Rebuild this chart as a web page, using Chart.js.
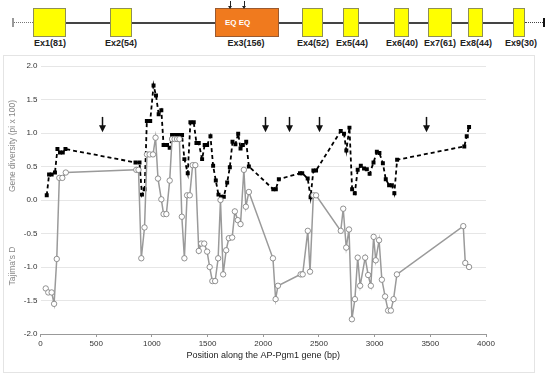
<!DOCTYPE html>
<html>
<head>
<meta charset="utf-8">
<script src="https://cdn.jsdelivr.net/npm/chart.js@4.4.1/dist/chart.umd.min.js"></script>
<style>
    body { margin: 0; background: #fff; font-family: "Liberation Sans", Arial, sans-serif; }
    #gene { position: absolute; left: 0; top: 0; width: 550px; height: 52px; }
    .ln { position: absolute; }
    .ex { position: absolute; top: 8px; height: 27px; background: #ffff00; border: 1px solid #8f8f55; }
    .lbl { position: absolute; top: 38px; width: 60px; margin-left: -30px; text-align: center; font-size: 9px; font-weight: bold; color: #222; }
    .arr { position: absolute; top: 1px; width: 1px; height: 6px; background: #222; }
    .arr:after { content: ''; position: absolute; left: -2px; top: 5px; border-left: 2.5px solid transparent; border-right: 2.5px solid transparent; border-top: 3px solid #222; }
    #frame { position: absolute; left: 3px; top: 55px; width: 530px; height: 316px; border: 1px solid #e4e4e4; }
</style>
</head>
<body>
<div id="gene">
    <div class="ln" style="left:12px;top:18px;width:2px;height:9px;background:#999"></div>
    <div class="ln" style="left:14px;top:22px;width:19px;border-top:1.5px dotted #777"></div>
    <div class="ln" style="left:33px;top:22px;width:480px;height:1.5px;background:#444"></div>
    <div class="ln" style="left:525px;top:22px;width:18px;border-top:1.5px dotted #444"></div>
    <div class="ln" style="left:543px;top:18px;width:2px;height:9px;background:#111"></div>

    <div class="ex" style="left:33px;width:31px"></div>
    <div class="ex" style="left:110px;width:20px"></div>
    <div class="ex" style="left:215px;width:62px;background:#f07a1e;border-color:#9a5a30"></div>
    <div class="ex" style="left:302px;width:19px"></div>
    <div class="ex" style="left:343px;width:14px"></div>
    <div class="ex" style="left:394px;width:13px"></div>
    <div class="ex" style="left:428px;width:22px"></div>
    <div class="ex" style="left:468px;width:13px"></div>
    <div class="ex" style="left:513px;width:10px"></div>

    <div class="arr" style="left:230px"></div>
    <div class="arr" style="left:244px"></div>
    <div class="ln" style="left:225px;top:18px;font-size:8px;font-weight:bold;color:#fff">EQ EQ</div>

    <div class="lbl" style="left:50px">Ex1(81)</div>
    <div class="lbl" style="left:121px">Ex2(54)</div>
    <div class="lbl" style="left:246px">Ex3(156)</div>
    <div class="lbl" style="left:313px">Ex4(52)</div>
    <div class="lbl" style="left:352px">Ex5(44)</div>
    <div class="lbl" style="left:402px">Ex6(40)</div>
    <div class="lbl" style="left:440px">Ex7(61)</div>
    <div class="lbl" style="left:476px">Ex8(44)</div>
    <div class="lbl" style="left:521px">Ex9(30)</div>
</div>
<div id="frame"><canvas id="grafico" width="530" height="316"></canvas></div>
<script>
// gene diversity (pi x 100)
var posDiversidade = [56, 77, 100, 130, 152, 175, 200, 224, 853, 889, 911, 935, 955, 985, 1015, 1037, 1061, 1085,
    1105, 1136, 1160, 1181, 1211, 1241, 1271, 1292, 1322, 1346, 1376, 1400, 1421, 1451, 1474, 1496, 1526, 1550,
    1574, 1598, 1622, 1646, 1676, 1700, 1724, 1750, 1775, 1796, 1817, 1847, 1871, 2090, 2113, 2140, 2330, 2350,
    2399, 2425, 2450, 2474, 2696, 2725, 2746, 2774, 2798, 2822, 2848, 2876, 2905, 2930, 2955, 2990, 3020, 3043,
    3074, 3100, 3130, 3155, 3177, 3202, 3805, 3827, 3848];
var diversidade = [0.07, 0.38, 0.38, 0.41, 0.76, 0.71, 0.71, 0.76, 0.56, 0.56, 0.08, 0.16, 1.18, 1.18, 1.71, 1.56, 1.28, 1.34,
    0.82, 0.82, 0.78, 0.97, 0.97, 0.97, 0.97, 0.61, 0.40, 1.16, 1.16, 0.85, 0.85, 0.61, 0.82, 0.82, 0.95, 0.51,
    0.29, 0.08, 0.05, 0.05, 0.26, 0.49, 0.87, 0.83, 0.99, 0.77, 0.82, 0.87, 0.50, 0.16, 0.16, 0.31, 0.40, 0.40,
    0.32, 0.04, 0.44, 0.44, 1.03, 0.99, 0.74, 1.08, 0.16, 0.10, 0.45, 0.51, 0.47, 0.46, 0.39, 0.56, 0.72, 0.70,
    0.55, 0.31, 0.22, 0.22, 0.10, 0.60, 0.80, 0.95, 1.09];

// Tajima's D
var posTajima = [47, 70, 100, 122, 146, 169, 196, 227, 860, 880, 905, 934, 956, 980, 1010, 1033, 1055, 1085,
    1105, 1130, 1160, 1181, 1204, 1226, 1247, 1269, 1292, 1316, 1340, 1366, 1390, 1421, 1443, 1470, 1496, 1519,
    1543, 1568, 1595, 1616, 1640, 1667, 1691, 1721, 1745, 1771, 1796, 1826, 1844, 1871, 2087, 2111, 2132, 2336,
    2354, 2400, 2420, 2450, 2474, 2696, 2718, 2745, 2770, 2796, 2823, 2848, 2870, 2915, 2942, 2966, 2991, 3010,
    3040, 3065, 3094, 3121, 3146, 3170, 3200, 3796, 3814, 3848];
var tajima = [-1.32, -1.38, -1.38, -1.55, -0.88, 0.33, 0.33, 0.41, 0.45, 0.45, -0.87, -0.41, 0.68, 0.68, 0.68, 0.93, 0.32, 0.01,
    -0.21, -0.21, 0.29, 0.91, 0.91, 0.91, 0.91, -0.25, -0.87, 0.07, 0.07, 0.52, 0.52, -0.76, -0.65, -0.65, -0.77, -1.00,
    -1.21, -1.21, -0.87, 0.00, -1.11, -0.75, -0.57, -0.56, -0.17, -0.30, -0.36, 0.45, -0.10, 0.12, -0.87, -1.48, -1.28, -1.11,
    -1.11, -0.46, -1.07, 0.07, 0.07, -0.46, -0.13, -0.71, -0.44, -1.78, -1.48, -0.86, -1.28, -0.86, -1.12, -1.28, -0.55, -0.90,
    -0.60, -1.19, -1.44, -1.65, -1.65, -1.48, -1.11, -0.39, -0.94, -1.00];

// arrows
var posSetas = [555, 2015, 2232, 2500, 3460];
var setaTopo = 1.24;
var setaPonta = 1.01;

var yTitulos = ['Gene diversity (pi x 100)', "Tajima's D"];

function pontos(xs, ys) {
    return xs.map(function (x, i) { return { x: x, y: ys[i] }; });
}

var pluginExtras = {
    id: 'extras',
    afterDatasetsDraw: function (chart) {
        var ctx = chart.ctx;
        var sx = chart.scales.x, sy = chart.scales.y;
        ctx.save();
        ctx.strokeStyle = '#111';
        ctx.fillStyle = '#111';
        ctx.lineWidth = 1.5;
        posSetas.forEach(function (p) {
            var x = Math.round(sx.getPixelForValue(p)) + 0.5;
            var y0 = sy.getPixelForValue(setaTopo);
            var y1 = sy.getPixelForValue(setaPonta);
            ctx.beginPath();
            ctx.moveTo(x, y0);
            ctx.lineTo(x, y1 - 5);
            ctx.stroke();
            ctx.beginPath();
            ctx.moveTo(x - 3.5, y1 - 7);
            ctx.lineTo(x + 3.5, y1 - 7);
            ctx.lineTo(x, y1);
            ctx.closePath();
            ctx.fill();
        });

        ctx.fillStyle = '#888';
        ctx.font = '8.5px "Liberation Sans", Arial, sans-serif';
        ctx.textAlign = 'center';
        ctx.textBaseline = 'middle';
        ctx.translate(9, 90);
        ctx.rotate(-Math.PI / 2);
        ctx.fillText(yTitulos[0], 0, 0);
        ctx.rotate(Math.PI / 2);
        ctx.translate(0, 120);
        ctx.rotate(-Math.PI / 2);
        ctx.fillText(yTitulos[1], 0, 0);
        ctx.restore();
    }
};

var ctx = document.getElementById('grafico').getContext('2d');
var chartGenes = new Chart(ctx, {
    type: 'scatter',
    data: {
        datasets: [
            {
                label: "Tajima's D",
                data: pontos(posTajima, tajima),
                showLine: true,
                borderColor: '#9a9a9a',
                borderWidth: 1.5,
                pointRadius: 2.7,
                pointBackgroundColor: '#fff',
                pointBorderColor: '#777',
                pointBorderWidth: 0.8,
            },
            {
                label: 'Gene diversity',
                data: pontos(posDiversidade, diversidade),
                showLine: true,
                borderColor: '#000',
                borderWidth: 1.8,
                borderDash: [4, 3],
                pointStyle: 'rect',
                pointRadius: 2.8,
                pointBackgroundColor: '#000',
                pointBorderColor: '#000',
                pointBorderWidth: 0,
            },
        ],
    },
    options: {
        responsive: false,
        animation: false,
        layout: { padding: { top: 10, right: 48, left: 0, bottom: 0 } },
        plugins: {
            legend: { display: false },
            tooltip: { enabled: false },
        },
        scales: {
            x: {
                type: 'linear',
                min: 0,
                max: 4000,
                ticks: {
                    stepSize: 500,
                    color: '#333',
                    padding: 2,
                    font: { size: 8, family: '"Liberation Sans", Arial' },
                    callback: function (v) { return String(v); },
                },
                grid: { drawOnChartArea: false, drawTicks: true, tickLength: 3, color: '#999' },
                border: { color: '#999', width: 1 },
                title: {
                    display: true,
                    text: 'Position along the AP-Pgm1 gene (bp)',
                    color: '#222',
                    font: { size: 9, family: '"Liberation Sans", Arial' },
                    padding: { top: 0, bottom: 11 },
                },
                afterFit: function (s) { s.height = 38; },
            },
            y: {
                min: -2,
                max: 2,
                ticks: {
                    stepSize: 0.5,
                    color: '#333',
                    padding: 3,
                    font: { size: 8, family: '"Liberation Sans", Arial' },
                    callback: function (v) { return v.toFixed(1); },
                },
                grid: { color: '#e6e6e6', drawTicks: false },
                border: { display: false },
                afterFit: function (s) { s.width = 36.5; },
            },
        },
    },
    plugins: [pluginExtras],
});
</script>
</body>
</html>
